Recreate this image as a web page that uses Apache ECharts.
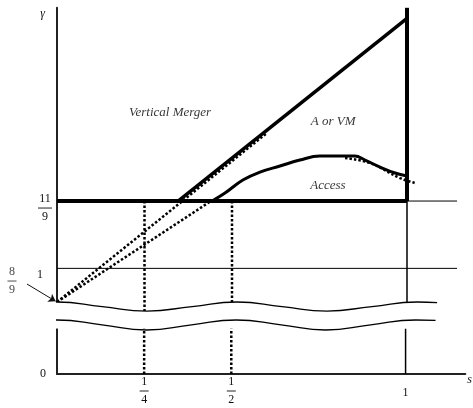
<!DOCTYPE html>
<html>
<head>
<meta charset="utf-8">
<script src="https://cdn.jsdelivr.net/npm/echarts@6/dist/echarts.min.js"></script>
<style>
  html, body { margin: 0; padding: 0; background: #fff; }
  #chart { width: 473px; height: 408px; }
</style>
</head>
<body>
<div id="chart"></div>
<script>
  // levels of gamma and s that the picture marks
  const gLow = 8 / 9;
  const gHigh = 11 / 9;
  const sTicks = [0.25, 0.5, 1];
  const gTicks = [1, 11 / 9];
  const sLineEnd = 1.143;

  // vertical merger boundary (thick) and the dotted line under it
  const vmS = [0.346, 1];
  const vmG = [11 / 9, 1.825];
  const vmDotS = [0, 0.6];
  const vmDotG = [8 / 9, 1.447];

  // access boundary (thick curve), its dotted twin and the dotted line from 8/9
  const accS = [0.443, 0.48, 0.531, 0.58, 0.637, 0.694, 0.751, 0.809, 0.851, 0.88, 0.923, 0.966, 1.0];
  const accG = [1.2222, 1.2486, 1.2915, 1.3179, 1.3377, 1.3575, 1.3707, 1.3707, 1.3707, 1.3575, 1.3344, 1.3146, 1.3047];
  const accDotS = [0.823, 0.894, 0.98, 1.023];
  const accDotG = [1.3641, 1.3476, 1.2981, 1.2816];
  const accLineS = [0, 0.44];
  const accLineG = [8 / 9, 11 / 9];

  // the two wavy lines of the axis break
  const waveS = [-0.057, 0, 0.129, 0.257, 0.386, 0.514, 0.643, 0.771, 0.9, 1.029, 1.086];
  const waveTop = [0.889, 0.889, 0.874, 0.859, 0.874, 0.889, 0.874, 0.859, 0.874, 0.889, 0.887];
  const waveBottom = [0.178, 0.178, 0.162, 0.145, 0.162, 0.178, 0.162, 0.145, 0.162, 0.178, 0.177];

  // region names
  const regionNames = ['Vertical Merger', 'A or VM', 'Access'];
  const regionS = [0.323, 0.789, 0.774];
  const regionG = [1.5127, 1.483, 1.2717];

  // the "8/9" callout: label spot and arrow from it to the start of the dotted lines
  const calloutS = [-0.1286];
  const calloutG = [0.9582];
  const arrowS = [-0.0857, -0.004];
  const arrowG = [0.9483, 0.8915];

  const pts = (xs, ys) => xs.map((x, i) => [x, ys[i]]);
  const FONT = 'Liberation Serif';

  const frac = {
    n: { fontFamily: FONT, fontSize: 12, lineHeight: 12, color: '#111', align: 'center' },
    d: { fontFamily: FONT, fontSize: 12, lineHeight: 12, color: '#111', align: 'center' },
    bar: { width: 9, height: 1, lineHeight: 6, backgroundColor: '#222', align: 'center' },
    barW: { width: 14, height: 1, lineHeight: 6, backgroundColor: '#222', align: 'center' },
    sp: { fontSize: 2, lineHeight: 14 },
    sp2: { fontSize: 2, lineHeight: 12 },
    sp3: { fontSize: 2, lineHeight: 11 },
    one: { fontFamily: FONT, fontSize: 12, lineHeight: 13, color: '#111', padding: [0, 9, 0, 0] }
  };

  function seg(data, width, dotted, grid, extra) {
    return Object.assign({
      type: 'line',
      xAxisIndex: grid,
      yAxisIndex: grid,
      data: data,
      symbol: 'none',
      silent: true,
      clip: false,
      lineStyle: { color: '#000', width: width, type: dotted ? [2.5, 2] : 'solid' }
    }, extra || {});
  }

  const series = [
    seg([[0, gHigh], [1, gHigh]], 4, false, 0),
    seg([[1, gHigh], [sLineEnd, gHigh]], 1, false, 0),
    seg([[0, 1], [sLineEnd, 1]], 1, false, 0),
    seg(pts(vmDotS, vmDotG), 2.5, true, 0),
    seg(pts(accLineS, accLineG), 2.5, true, 0),
    seg(pts(vmS, vmG), 3.5, false, 0),
    seg([[1, gHigh], [1, 1.86]], 4, false, 0),
    seg([[sTicks[0], gHigh], [sTicks[0], 0.82]], 2.5, true, 0),
    seg([[sTicks[1], gHigh], [sTicks[1], 0.82]], 2.5, true, 0),
    seg([[1, gHigh], [1, 0.82]], 1.5, false, 0),
    seg(pts(accDotS, accDotG), 2.5, true, 0, { smooth: 0.4 }),
    seg(pts(accS, accG), 3, false, 0, { smooth: 0.4 }),
    seg(pts(waveS, waveTop), 1.3, false, 0, {
      smooth: 0.5, z: 10,
      areaStyle: { color: '#fff', opacity: 1, origin: 'start' }
    }),
    seg([[sTicks[0], 0], [sTicks[0], 0.15]], 2.5, true, 1),
    seg([[sTicks[1], 0], [sTicks[1], 0.15]], 2.5, true, 1),
    seg([[1, 0], [1, 0.15]], 1.5, false, 1),
    seg(pts(waveS, waveBottom), 1.3, false, 1, {
      smooth: 0.5, z: 11,
      areaStyle: { color: '#fff', opacity: 1, origin: 'end' }
    }),
    // arrow of the 8/9 callout
    {
      type: 'lines',
      coordinateSystem: 'cartesian2d',
      xAxisIndex: 0,
      yAxisIndex: 0,
      silent: true,
      clip: false,
      z: 12,
      symbol: ['none', 'arrow'],
      symbolSize: 7,
      lineStyle: { color: '#111', width: 1, opacity: 1, curveness: 0 },
      data: [{ coords: pts(arrowS, arrowG) }]
    },
    {
      type: 'scatter',
      xAxisIndex: 0,
      yAxisIndex: 0,
      symbolSize: 0,
      silent: true,
      clip: false,
      z: 12,
      data: regionNames.map((n, i) => ({ name: n, value: [regionS[i], regionG[i]] })),
      label: {
        show: true,
        position: 'inside',
        formatter: p => p.name,
        fontFamily: FONT,
        fontStyle: 'italic',
        fontSize: 13,
        color: '#000'
      }
    },
    {
      type: 'scatter',
      xAxisIndex: 0,
      yAxisIndex: 0,
      symbolSize: 0,
      silent: true,
      clip: false,
      z: 12,
      data: pts(calloutS, calloutG),
      label: {
        show: true,
        position: 'inside',
        formatter: '{n|8}\n{bar| }\n{d|9}',
        rich: frac
      }
    }
  ];

  const xBase = {
    type: 'value',
    min: 0,
    max: 410 / 350,
    splitLine: { show: false },
    axisTick: { show: false }
  };

  const option = {
    animation: false,
    backgroundColor: '#fff',
    grid: [
      { left: 57, right: 6, top: 7.8, bottom: 85.1 },
      { left: 57, right: 6, top: 328.5, bottom: 34 }
    ],
    xAxis: [
      Object.assign({}, xBase, {
        gridIndex: 0,
        axisLine: { show: false },
        axisLabel: { show: false }
      }),
      Object.assign({}, xBase, {
        gridIndex: 1,
        name: 's',
        nameLocation: 'end',
        nameGap: 2,
        nameTextStyle: {
          fontFamily: FONT, fontStyle: 'italic', fontSize: 12, color: '#111',
          align: 'left', verticalAlign: 'top'
        },
        axisLine: { show: true, onZero: false, lineStyle: { color: '#222', width: 2 } },
        axisLabel: {
          show: true,
          customValues: sTicks,
          margin: 2,
          formatter: v => {
            if (v === 0.25) return '{n|1}\n{bar| }\n{d|4}';
            if (v === 0.5) return '{n|1}\n{bar| }\n{d|2}';
            return '{sp3| }\n{n|1}';
          },
          rich: frac
        }
      })
    ],
    yAxis: [
      {
        type: 'value',
        gridIndex: 0,
        min: 0.82,
        max: 1.86,
        name: 'γ',
        nameLocation: 'end',
        nameGap: -6,
        nameTextStyle: {
          fontFamily: FONT, fontStyle: 'italic', fontSize: 12, color: '#111',
          align: 'right', verticalAlign: 'middle', padding: [0, 12, 0, 0]
        },
        splitLine: { show: false },
        axisTick: { show: false },
        axisLine: { show: true, onZero: false, lineStyle: { color: '#222', width: 2 } },
        axisLabel: {
          show: true,
          customValues: gTicks,
          margin: 5,
          formatter: v => Math.abs(v - gHigh) < 1e-6
            ? '{sp| }\n{n|11}\n{barW| }\n{d|9}'
            : '{sp2| }\n{one|1}',
          rich: frac
        }
      },
      {
        type: 'value',
        gridIndex: 1,
        min: 0,
        max: 0.15,
        splitLine: { show: false },
        axisTick: { show: false },
        axisLine: { show: true, onZero: false, lineStyle: { color: '#222', width: 2 } },
        axisLabel: {
          show: true,
          customValues: [0],
          margin: 11,
          fontFamily: FONT,
          fontSize: 12,
          color: '#111'
        }
      }
    ],
    series: series
  };

  const chart = echarts.init(document.getElementById('chart'));
  chart.setOption(option);
</script>
</body>
</html>
